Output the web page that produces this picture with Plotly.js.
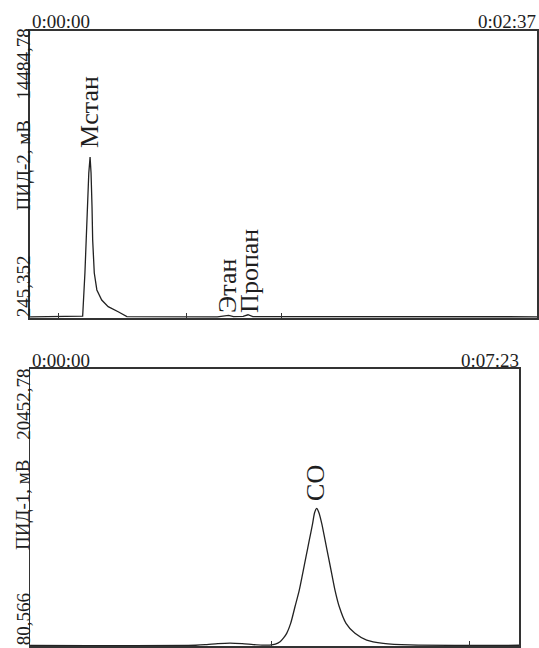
<!DOCTYPE html>
<html>
<head>
<meta charset="utf-8">
<script src="https://cdn.plot.ly/plotly-3.0.1.min.js"></script>
<style>html,body{margin:0;padding:0;background:#fff;}#chart{width:539px;height:648px;}</style>
</head>
<body>
<div id="chart"></div>
<script>
// ---- Top chromatogram (ПИД-2), time in seconds, signal in mV ----
const timeTop = [0, 16.0, 16.3, 17.0, 17.35, 17.75, 18.2, 18.6, 18.9, 19.2, 19.4, 19.9, 20.7, 22.2, 24.2, 27.3, 30, 58, 60, 61.5, 63, 66, 67.5, 69, 157];
const signalTop = [330, 330, 360, 2500, 4130, 5770, 7450, 8240, 7450, 5770, 4130, 2500, 1660, 1160, 830, 580, 340, 330, 350, 400, 340, 350, 430, 340, 330];
const topRange = [245.352, 14484.78];
const topTimeMax = 157;
const topTicks = [8.8, 48.5, 77.9];

// ---- Bottom chromatogram (ПИД-1) ----
const timeBot = [0, 150, 160, 170, 181, 192, 202, 210, 217, 222, 226.3, 229.5, 232.3, 235.9, 239.8, 243.7, 246.8, 249.8, 252.8, 255.8, 257.6, 259.5, 261.4, 264.0, 267.0, 270.0, 273.0, 276.0, 279.9, 286.0, 294.1, 304.7, 319.7, 343.9, 443];
const signalBot = [130, 140, 190, 260, 300, 260, 190, 150, 150, 220, 400, 680, 1015, 1750, 2970, 4200, 5430, 6650, 7880, 9100, 9900, 10210, 9900, 9100, 7880, 6650, 5430, 4200, 2970, 1750, 1015, 520, 280, 160, 140];
const botRange = [80.566, 20452.78];
const botTimeMax = 443;
const botTicks = [219, 398];

// ---- Labels ----
const peakLabelsTop = [{name: "Мстан", t: 18.6, v: 8600}, {name: "Этан", t: 61.3, v: 420}, {name: "Пропан", t: 68.1, v: 420}];
const peakLabelsBot = [{name: "CO", t: 258.8, v: 10600}];
const topTimeLabels = ["0:00:00", "0:02:37"];
const botTimeLabels = ["0:00:00", "0:07:23"];
const topYLabels = ["14484,78", "ПИД-2, мВ", "245,352"];
const botYLabels = ["20452,78", "ПИД-1, мВ", "80,566"];

const FONT = "Liberation Serif, Times New Roman, serif";
const TXT = "#1e1e1e";

const traces = [
  {x: timeTop, y: signalTop, xaxis: "x", yaxis: "y", mode: "lines", line: {color: "#222", width: 1.3}, hoverinfo: "skip"},
  {x: timeBot, y: signalBot, xaxis: "x2", yaxis: "y2", mode: "lines", line: {color: "#222", width: 1.3, shape: "spline", smoothing: 0.8}, hoverinfo: "skip"}
];

const axBase = {showgrid: false, zeroline: false, showline: true, mirror: true, linecolor: "#333", showticklabels: false, fixedrange: true};

const annotations = [];
peakLabelsTop.forEach(p => annotations.push({x: p.t, y: p.v, xref: "x", yref: "y", text: p.name, showarrow: false, textangle: -90, xanchor: "center", yanchor: "bottom", font: {family: FONT, size: 26, color: TXT}}));
peakLabelsBot.forEach(p => annotations.push({x: p.t, y: p.v, xref: "x2", yref: "y2", text: p.name, showarrow: false, textangle: -90, xanchor: "center", yanchor: "bottom", font: {family: FONT, size: 26, color: TXT}}));

function paperText(text, x, y, xa, ya, angle) {
  annotations.push({x: x, y: y, xref: "paper", yref: "paper", text: text, showarrow: false, textangle: angle || 0, xanchor: xa, yanchor: ya, borderpad: 0, font: {family: FONT, size: 19, color: TXT}});
}
paperText(topTimeLabels[0], 0.058, 0.967, "left", "middle");
paperText(topTimeLabels[1], 0.9963, 0.967, "right", "middle");
paperText(botTimeLabels[0], 0.058, 0.443, "left", "middle");
paperText(botTimeLabels[1], 0.9647, 0.443, "right", "middle");
paperText(topYLabels[0], 0.043, 0.957, "center", "top", -90);
paperText(topYLabels[1], 0.043, 0.745, "center", "middle", -90);
paperText(topYLabels[2], 0.043, 0.509, "center", "bottom", -90);
paperText(botYLabels[0], 0.043, 0.432, "center", "top", -90);
paperText(botYLabels[1], 0.043, 0.221, "center", "middle", -90);
paperText(botYLabels[2], 0.043, 0.003, "center", "bottom", -90);

const layout = {
  width: 539, height: 648,
  margin: {l: 0, r: 0, t: 0, b: 0},
  paper_bgcolor: "#fff", plot_bgcolor: "#fff",
  showlegend: false,
  xaxis: Object.assign({}, axBase, {domain: [0.0557, 0.9963], range: [0, topTimeMax], anchor: "y", linewidth: 2, ticks: "inside", ticklen: 5, tickwidth: 1, tickcolor: "#333", tickvals: topTicks}),
  yaxis: Object.assign({}, axBase, {domain: [0.5085, 0.952], range: topRange, anchor: "x", linewidth: 2, ticks: ""}),
  xaxis2: Object.assign({}, axBase, {domain: [0.0557, 0.9638], range: [0, botTimeMax], anchor: "y2", linewidth: 1.5, ticks: "inside", ticklen: 5, tickwidth: 1, tickcolor: "#333", tickvals: botTicks}),
  yaxis2: Object.assign({}, axBase, {domain: [0.003, 0.4306], range: botRange, anchor: "x2", linewidth: 1.5, ticks: ""}),
  annotations: annotations
};

Plotly.newPlot("chart", traces, layout, {displayModeBar: false, staticPlot: true});
</script>
</body>
</html>
